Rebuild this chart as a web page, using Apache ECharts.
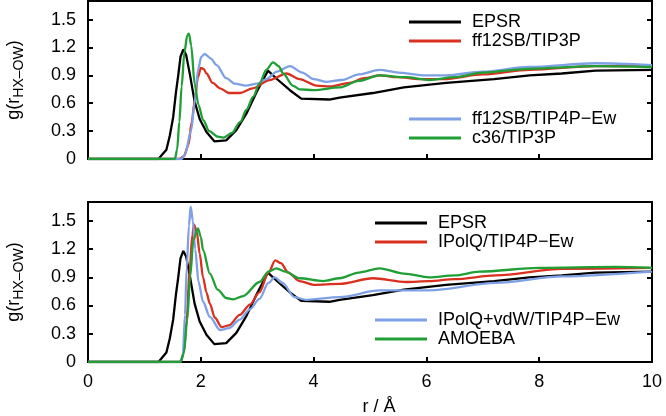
<!DOCTYPE html>
<html><head><meta charset="utf-8">
<script src="https://cdn.jsdelivr.net/npm/echarts@6/dist/echarts.min.js"></script>
<style>html,body{margin:0;padding:0;background:#fff}#c{width:666px;height:416px}</style>
</head><body><div id="c"></div>
<script>
// Tick values
const xTicks = [0, 2, 4, 6, 8, 10];
const yTicks = [0, 0.3, 0.6, 0.9, 1.2, 1.5];

// Series names
const topNames = ['EPSR', 'ff12SB/TIP3P', 'ff12SB/TIP4P\u2212Ew', 'c36/TIP3P'];
const botNames = ['EPSR', 'IPolQ/TIP4P\u2212Ew', 'IPolQ+vdW/TIP4P\u2212Ew', 'AMOEBA'];

// EPSR (experiment), same in both panels: [r, g]
const epsr = [[0,0],[1.25,0],[1.32,0.05],[1.39,0.1],[1.45,0.25],[1.51,0.45],[1.56,0.72],[1.6,0.9],[1.64,1.1],[1.69,1.18],[1.74,1.12],[1.81,0.9],[1.89,0.62],[1.98,0.43],[2.1,0.29],[2.24,0.19],[2.45,0.2],[2.63,0.31],[2.81,0.49],[2.99,0.72],[3.19,0.95],[3.37,0.85],[3.58,0.74],[3.78,0.65],[4.28,0.64],[4.46,0.66],[5.05,0.71],[5.6,0.77],[6.35,0.82],[7.2,0.86],[7.83,0.9],[8.4,0.92],[9.0,0.95],[10,0.96]];

// Top panel
const ff12TIP3P = [[0,0],[1.62,0],[1.7,0.03],[1.78,0.15],[1.84,0.4],[1.89,0.62],[1.95,0.88],[2.0,0.98],[2.05,0.97],[2.1,0.92],[2.21,0.82],[2.34,0.76],[2.5,0.71],[2.69,0.71],[2.92,0.76],[3.22,0.85],[3.52,0.92],[3.75,0.86],[4.05,0.79],[4.3,0.78],[4.64,0.82],[4.9,0.87],[5.17,0.9],[5.5,0.88],[5.88,0.86],[6.3,0.86],[7.0,0.91],[7.82,0.96],[9.0,1.0],[10,1.0]];
const ff12TIP4P = [[0,0],[1.66,0],[1.72,0.05],[1.83,0.31],[1.89,0.6],[1.95,0.96],[2.01,1.1],[2.07,1.13],[2.18,1.08],[2.28,1.01],[2.45,0.87],[2.6,0.81],[2.8,0.79],[3.0,0.81],[3.16,0.86],[3.35,0.94],[3.58,1.0],[3.8,0.93],[4.0,0.86],[4.22,0.83],[4.5,0.85],[4.8,0.91],[5.17,0.96],[5.5,0.93],[5.93,0.9],[6.35,0.9],[7.0,0.94],[7.82,0.99],[9.0,1.03],[10,1.01]];
const c36TIP3P = [[0,0],[1.54,0],[1.58,0.1],[1.62,0.4],[1.66,0.78],[1.71,1.15],[1.76,1.33],[1.79,1.35],[1.83,1.22],[1.89,0.81],[1.96,0.58],[2.04,0.42],[2.15,0.3],[2.3,0.24],[2.4,0.23],[2.55,0.28],[2.7,0.4],[2.81,0.53],[2.93,0.67],[3.04,0.81],[3.16,0.96],[3.28,1.04],[3.38,1.0],[3.46,0.92],[3.63,0.79],[3.75,0.75],[4.0,0.74],[4.46,0.77],[4.8,0.84],[5.17,0.9],[5.64,0.88],[6.05,0.85],[6.5,0.88],[7.0,0.93],[7.82,0.97],[9.0,1.0],[10,0.99]];

// Bottom panel
const ipolq = [[0,0],[1.64,0],[1.7,0.1],[1.75,0.45],[1.8,0.95],[1.85,1.35],[1.88,1.46],[1.93,1.38],[1.98,1.15],[2.04,0.9],[2.1,0.74],[2.16,0.62],[2.25,0.47],[2.37,0.37],[2.5,0.39],[2.69,0.5],[2.87,0.61],[3.04,0.74],[3.2,0.95],[3.32,1.08],[3.42,1.05],[3.55,0.95],[3.75,0.86],[4.0,0.82],[4.46,0.83],[5.05,0.89],[5.64,0.85],[6.05,0.86],[6.5,0.88],[7.23,0.92],[8.41,0.99],[10,1.0]];
const ipolqVdw = [[0,0],[1.62,0],[1.68,0.05],[1.72,0.5],[1.75,1.0],[1.79,1.45],[1.82,1.65],[1.86,1.5],[1.9,1.2],[1.96,0.85],[2.04,0.64],[2.16,0.48],[2.34,0.34],[2.5,0.36],[2.69,0.45],[2.87,0.56],[3.04,0.67],[3.2,0.84],[3.31,0.9],[3.45,0.84],[3.66,0.69],[3.87,0.66],[4.46,0.69],[5.17,0.76],[5.64,0.76],[6.05,0.76],[7.23,0.84],[8.41,0.91],[10,0.96]];
const amoeba = [[0,0],[1.64,0],[1.7,0.1],[1.76,0.45],[1.81,0.9],[1.87,1.3],[1.95,1.42],[2.0,1.33],[2.04,1.19],[2.16,0.94],[2.3,0.77],[2.45,0.68],[2.57,0.665],[2.75,0.7],[3.04,0.85],[3.2,0.96],[3.34,0.995],[3.5,0.96],[3.75,0.89],[4.17,0.86],[4.46,0.89],[4.8,0.95],[5.17,0.995],[5.6,0.94],[6.05,0.9],[6.5,0.92],[6.94,0.96],[8.0,1.0],[9.36,1.01],[10,1.0]];

const colors = ['#000000', '#d9301f', '#7ea0e4', '#1f9f36'];
const FONT = 'Liberation Sans';
const FS = 18;

const chart = echarts.init(document.getElementById('c'), null, {renderer: 'canvas'});

function fmtY(v) { return v === 0 ? '0' : v.toFixed(1); }
const yName = '{n|g(r}{s|HX\u2013OW}{n|)}';
const yNameStyle = {
  fontFamily: FONT, color: '#000',
  rich: {
    n: {fontSize: 18, fontFamily: FONT, color: '#000', lineHeight: 24, verticalAlign: 'middle'},
    s: {fontSize: 14, fontFamily: FONT, color: '#000', lineHeight: 10, verticalAlign: 'bottom'}
  }
};

function xAxis(grid, labels) {
  return {
    type: 'value', gridIndex: grid, min: xTicks[0], max: xTicks[xTicks.length - 1], interval: xTicks[1] - xTicks[0],
    axisLine: {show: true, lineStyle: {color: '#000', width: 2}},
    axisTick: {show: true, inside: true, length: 5, lineStyle: {color: '#000', width: 2}},
    axisLabel: {show: labels, fontSize: FS, fontFamily: FONT, color: '#000', margin: 11},
    splitLine: {show: false},
    name: labels ? 'r / \u00c5' : '', nameLocation: 'middle', nameGap: 36,
    nameTextStyle: {fontSize: FS, fontFamily: FONT, color: '#000', padding: [0, 0, 0, 18]}
  };
}
function yAxisL(grid) {
  return {
    type: 'value', gridIndex: grid, min: 0, max: 1.7, interval: 0.3,
    axisLine: {show: true, lineStyle: {color: '#000', width: 2}},
    axisTick: {show: true, inside: true, length: 5, lineStyle: {color: '#000', width: 2}},
    axisLabel: {fontSize: FS, fontFamily: FONT, color: '#000', margin: 12, showMaxLabel: false, formatter: fmtY},
    splitLine: {show: false},
    name: yName, nameLocation: 'middle', nameGap: 62, nameRotate: 90,
    nameTextStyle: yNameStyle
  };
}
function yAxisR(grid) {
  return {
    type: 'value', gridIndex: grid, position: 'right', min: 0, max: 1.7, interval: 0.3,
    axisLine: {show: true, lineStyle: {color: '#000', width: 2}},
    axisTick: {show: true, inside: true, length: 5, lineStyle: {color: '#000', width: 2}},
    axisLabel: {show: false}, splitLine: {show: false}
  };
}
function line(name, data, idx, color, smooth) {
  return {
    type: 'line', name: name, data: data, xAxisIndex: idx, yAxisIndex: idx * 2,
    symbol: 'none', smooth: smooth, smoothMonotone: 'x', clip: true,
    lineStyle: {color: color, width: 2.3}, itemStyle: {color: color},
    emphasis: {disabled: true}, animation: false
  };
}
function legend(names, left, top) {
  return {
    data: names, left: left, top: top, orient: 'vertical', itemWidth: 52, itemHeight: 3, itemGap: 1,
    icon: 'rect', selectedMode: false,
    textStyle: {fontSize: FS, fontFamily: FONT, color: '#000', lineHeight: 18, padding: [0, 0, 0, 6]}
  };
}

chart.setOption({
  animation: false,
  grid: [
    {left: 88, right: 14, top: 1, height: 158, show: true, borderColor: '#000', borderWidth: 2, containLabel: false, outerBoundsMode: 'none'},
    {left: 88, right: 14, top: 202, height: 160, show: true, borderColor: '#000', borderWidth: 2, containLabel: false, outerBoundsMode: 'none'}
  ],
  xAxis: [xAxis(0, false), xAxis(1, true)],
  yAxis: [yAxisL(0), yAxisR(0), yAxisL(1), yAxisR(1)],
  legend: [
    legend(topNames.slice(0, 2), 404, 8),
    legend(topNames.slice(2, 4), 404, 105),
    legend(botNames.slice(0, 2), 370, 209),
    legend(botNames.slice(2, 4), 370, 306)
  ],
  series: [
    line(topNames[0], epsr, 0, colors[0], false),
    line(topNames[1], ff12TIP3P, 0, colors[1], 0.3),
    line(topNames[2], ff12TIP4P, 0, colors[2], 0.3),
    line(topNames[3], c36TIP3P, 0, colors[3], 0.3),
    line(botNames[0], epsr, 1, colors[0], false),
    line(botNames[1], ipolq, 1, colors[1], 0.3),
    line(botNames[2], ipolqVdw, 1, colors[2], 0.3),
    line(botNames[3], amoeba, 1, colors[3], 0.3)
  ]
});
</script></body></html>
